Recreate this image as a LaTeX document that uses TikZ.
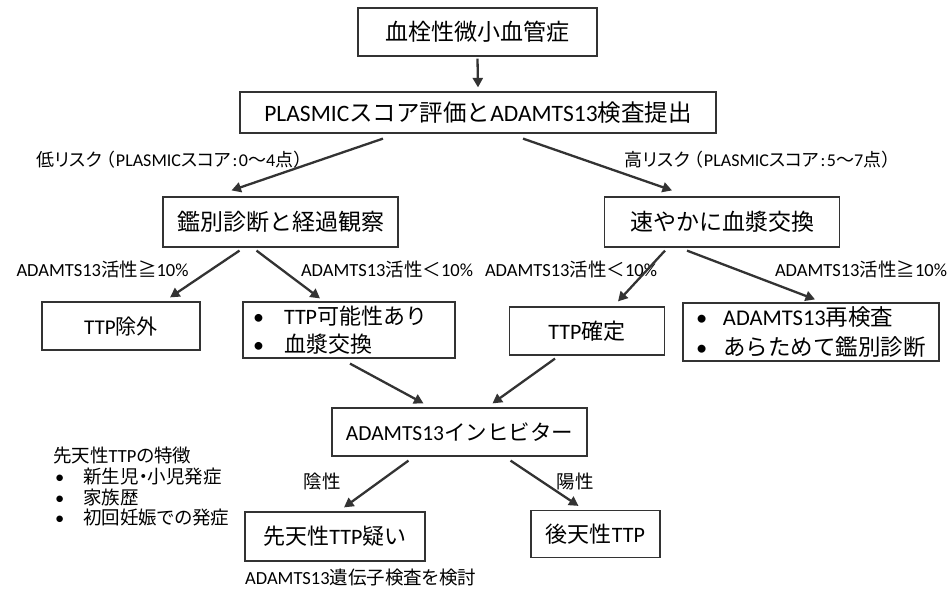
\documentclass[tikz,border=0pt]{standalone}
\usepackage{fontspec}
\setmainfont{Carlito}
\newfontfamily\jp{Noto Sans CJK JP}
\newfontfamily\jpp[RawFeature=+palt]{Noto Sans CJK JP}
\usetikzlibrary{arrows.meta}
\definecolor{ln}{HTML}{333333}
\tikzset{
  box/.style={draw=ln, line width=1.2pt, inner sep=0pt, fill=white, align=center},
  listbox/.style={box, align=left},
  arr/.style={draw=ln, line width=2.3pt, -{Triangle[length=9.5pt,width=10pt]}},
  lbl/.style={inner sep=0pt, font=\fontsize{18.5}{22}\selectfont},
  risk/.style={inner sep=0pt, font=\fontsize{18}{22}\selectfont},
}
\newcommand{\bul}[1]{\makebox[#1][l]{•}}
\begin{document}
\begin{tikzpicture}[x=1pt,y=-1pt]
\useasboundingbox (0,0) rectangle (949,590);
% boxes
\node[box, minimum width=239pt, minimum height=48pt, font=\fontsize{23}{26}\selectfont] (b1) at (477.5,32) {\jp 血栓性微小血管症};
\node[box, minimum width=476pt, minimum height=41pt, font=\fontsize{23.5}{26}\selectfont] (b2) at (478,112.5) {PLASMIC{\jp スコア評価と}ADAMTS13{\jp 検査提出}};
\node[box, minimum width=235pt, minimum height=50pt, font=\fontsize{23}{26}\selectfont] (b3) at (280.5,222) {\jp 鑑別診断と経過観察};
\node[box, minimum width=235pt, minimum height=50pt, font=\fontsize{23}{26}\selectfont] (b4) at (722,222) {\jp 速やかに血漿交換};
\node[box, minimum width=158pt, minimum height=48pt, font=\fontsize{21}{24}\selectfont] (b5) at (121,326) {TTP{\jp 除外}};
\node[listbox, inner xsep=10pt, text width=192pt, minimum height=56pt, font=\fontsize{22}{28}\selectfont] (b6) at (349,330)
  {\bul{31pt}TTP{\jp 可能性あり}\\\bul{31pt}{\jp 血漿交換}};
\node[box, minimum width=155pt, minimum height=48pt, font=\fontsize{22}{24}\selectfont] (b7) at (587,331) {TTP{\jp 確定}};
\node[listbox, inner xsep=13pt, text width=230pt, minimum height=58pt, font=\fontsize{22.5}{30}\selectfont] (b8) at (811,332)
  {\bul{27pt}ADAMTS13{\jp 再検査}\\\bul{27pt}{\jp あらためて鑑別診断}};
\node[box, minimum width=255pt, minimum height=48pt, font=\fontsize{21.5}{24}\selectfont] (b9) at (459.5,432) {ADAMTS13{\jp インヒビター}};
\node[box, minimum width=180pt, minimum height=49pt, font=\fontsize{22}{25}\selectfont] (b10) at (335,536.5) {{\jp 先天性}TTP{\jp 疑い}};
\node[box, minimum width=129pt, minimum height=47pt, font=\fontsize{22}{25}\selectfont] (b11) at (595.5,534) {{\jp 後天性}TTP};
% labels
\node[risk] (low) at (174,160) {{\jpp 低リスク}\kern-4pt{\jp （}PLASMIC{\jpp スコア}\hspace{1.5pt}:\hspace{1.5pt}0{\jpp 〜}4{\jpp 点}{\jp ）}};
\node[risk] (high) at (762,160) {{\jpp 高リスク}\kern-4pt{\jp （}PLASMIC{\jpp スコア}\hspace{1.5pt}:\hspace{1.5pt}5{\jpp 〜}7{\jpp 点}{\jp ）}};
\node[lbl] (l1) at (102.5,269) {ADAMTS13{\jpp 活性≧}10\%};
\node[lbl] (l2) at (387,269) {ADAMTS13{\jpp 活性＜}10\%};
\node[lbl] (l3) at (571,269) {ADAMTS13{\jpp 活性＜}10\%};
\node[lbl] (l4) at (861,269) {ADAMTS13{\jpp 活性≧}10\%};
\node[lbl] (neg) at (322,481) {\jpp 陰性};
\node[lbl] (pos) at (575,481) {\jpp 陽性};
\node[lbl, anchor=west] (gene) at (245,578) {ADAMTS13{\jpp 遺伝子検査を検討}};
% congenital TTP features
\node[lbl, anchor=west] (feat) at (53,455) {{\jpp 先天性}TTP{\jpp の特徴}};
\node[lbl, anchor=west] (f1) at (55,477) {\bul{28pt}{\jpp 新生児・小児発症}};
\node[lbl, anchor=west] (f2) at (55,497.5) {\bul{28pt}{\jpp 家族歴}};
\node[lbl, anchor=west] (f3) at (55,518) {\bul{28pt}{\jpp 初回妊娠での発症}};
% arrows
\draw[arr] ([yshift=-2pt]b1.south) -- ([yshift=4pt]b2.north);
\draw[arr] ([xshift=-95pt,yshift=-5pt]b2.south) -- ([xshift=-49pt,yshift=6pt]b3.north);
\draw[arr] ([xshift=45pt,yshift=-5pt]b2.south) -- ([xshift=-50pt,yshift=6pt]b4.north);
\draw[arr] ([xshift=-41pt,yshift=-3pt]b3.south) -- ([xshift=49pt,yshift=4pt]b5.north);
\draw[arr] ([xshift=-24pt,yshift=-3pt]b3.south) -- ([xshift=-29pt,yshift=3pt]b6.north);
\draw[arr] ([xshift=-57pt,yshift=-3pt]b4.south) -- ([xshift=31pt,yshift=5pt]b7.north);
\draw[arr] ([xshift=-35pt,yshift=-3pt]b4.south) -- ([xshift=4pt,yshift=3pt]b8.north);
\draw[arr] ([xshift=1pt,yshift=-5pt]b6.south) -- ([xshift=-36pt,yshift=4pt]b9.north);
\draw[arr] ([xshift=-32pt,yshift=-3pt]b7.south) -- ([xshift=33pt,yshift=4pt]b9.north);
\draw[arr] ([xshift=-51pt,yshift=-4pt]b9.south) -- ([xshift=9pt,yshift=4pt]b10.north);
\draw[arr] ([xshift=51pt,yshift=-4pt]b9.south) -- ([xshift=-17pt,yshift=4pt]b11.north);
\end{tikzpicture}
\end{document}
